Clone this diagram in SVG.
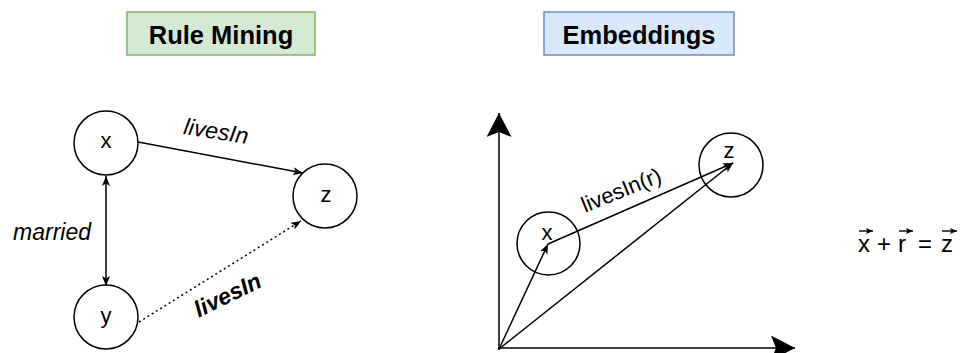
<svg xmlns="http://www.w3.org/2000/svg" width="960" height="353" viewBox="0 0 960 353">
  <defs>
    <marker id="sm" markerUnits="userSpaceOnUse" viewBox="0 0 10 8" refX="10" refY="4" markerWidth="10" markerHeight="8" orient="auto-start-reverse">
      <path d="M0,0 L10,4 L0,8 L2.5,4 z" fill="#000"/>
    </marker>
    <marker id="tiny" markerUnits="userSpaceOnUse" viewBox="0 0 7 6" refX="7" refY="3" markerWidth="7" markerHeight="6" orient="auto">
      <path d="M0,0 L7,3 L0,6 L1.5,3 z" fill="#000"/>
    </marker>
    <marker id="big" markerUnits="userSpaceOnUse" viewBox="0 0 24 25" refX="24" refY="12.5" markerWidth="24" markerHeight="25" orient="auto">
      <path d="M0,0 L24,12.5 L0,25 L5,12.5 z" fill="#000"/>
    </marker>
    <style>
      .t{font-family:"Liberation Sans",Arial,sans-serif;fill:#000}
      .title{font-size:25.5px;font-weight:bold;text-anchor:middle}
      .lbl{font-size:22px;text-anchor:middle}
      .it{font-size:23px;font-style:italic;text-anchor:middle}
      .node{fill:#fff;stroke:#000;stroke-width:1.5}
      .enode{fill:none;stroke:#000;stroke-width:1.5}
      .edge{fill:none;stroke:#000;stroke-width:1.5}
      .vec{fill:none;stroke:#000;stroke-width:1.4}
    </style>
  </defs>

  <g id="title-rule-mining">
    <rect x="127" y="12" width="188" height="43" fill="#d5e8d4" stroke="#82b366" stroke-width="1.5"/>
    <text class="t title" x="221" y="44">Rule Mining</text>
  </g>
  <g id="title-embeddings">
    <rect x="544" y="12" width="190" height="43" fill="#dae8fc" stroke="#6c8ebf" stroke-width="1.5"/>
    <text class="t title" x="639" y="44">Embeddings</text>
  </g>

  <g id="connectors">
    <line class="edge" x1="138" y1="142" x2="303" y2="173" marker-end="url(#sm)"/>
    <line class="edge" x1="106" y1="176" x2="106" y2="286" marker-start="url(#sm)" marker-end="url(#sm)"/>
    <line class="edge" x1="139" y1="322" x2="301" y2="221" stroke-dasharray="2 3" marker-end="url(#sm)"/>
    <line class="edge" x1="499" y1="350" x2="499" y2="113" marker-end="url(#big)"/>
    <line class="edge" x1="498" y1="348" x2="795" y2="348" marker-end="url(#big)"/>
    <line class="edge" x1="499" y1="349" x2="548" y2="244" marker-end="url(#sm)"/>
    <line class="edge" x1="499" y1="349" x2="733" y2="163" marker-end="url(#sm)"/>
    <line class="edge" x1="548" y1="244" x2="733" y2="163" marker-end="url(#sm)"/>
    <text class="t it" transform="translate(215,139) rotate(9)">livesIn</text>
    <text class="t it" x="52" y="240">married</text>
    <text class="t it" font-weight="bold" transform="translate(231,302) rotate(-26)">livesIn</text>
    <text class="t lbl" font-size="23" transform="translate(624,197) rotate(-22)">livesIn(r)</text>
  </g>

  <g id="node-x">
    <circle class="node" cx="106" cy="143" r="32"/>
    <text class="t lbl" x="106" y="148">x</text>
  </g>
  <g id="node-z">
    <circle class="node" cx="325" cy="196" r="32"/>
    <text class="t lbl" x="326" y="202">z</text>
  </g>
  <g id="node-y">
    <circle class="node" cx="106" cy="317" r="32"/>
    <text class="t lbl" x="106" y="323">y</text>
  </g>

  <g id="emb-x">
    <circle class="enode" cx="548.5" cy="243.5" r="31.5"/>
    <text class="t lbl" font-size="23" x="547" y="240">x</text>
  </g>
  <g id="emb-z">
    <circle class="enode" cx="731" cy="165" r="32"/>
    <text class="t lbl" font-size="23" x="729" y="158">z</text>
  </g>

  <g id="formula">
    <text class="t" font-size="24" y="252"><tspan x="858">x</tspan><tspan x="877">+</tspan><tspan x="898">r</tspan><tspan x="918">=</tspan><tspan x="941">z</tspan></text>
    <line class="vec" x1="859" y1="231" x2="873" y2="231" marker-end="url(#tiny)"/>
    <line class="vec" x1="899" y1="231" x2="913" y2="231" marker-end="url(#tiny)"/>
    <line class="vec" x1="942" y1="231" x2="957" y2="231" marker-end="url(#tiny)"/>
  </g>
</svg>
